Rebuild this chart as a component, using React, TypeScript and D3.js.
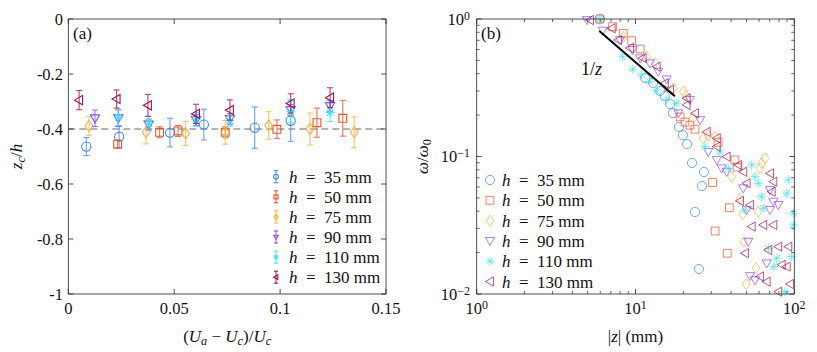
import { useEffect, useRef } from 'react';
import * as d3 from 'd3';

const heights = [35, 50, 75, 90, 110, 130];
const colors = ['#3c8cf6', '#e8532b', '#f5b441', '#8a4cf2', '#3ee4f2', '#a3134f'];
const markers = ['circle', 'square', 'diamond', 'triangleDown', 'star', 'triangleLeft'];

// panel (a): [ (Ua-Uc)/Uc, zc/h, error ]
const zc35 = [[0.0085, -0.464, 0.033], [0.024, -0.428, 0.04], [0.048, -0.413, 0.052], [0.064, -0.384, 0.056], [0.088, -0.395, 0.075], [0.105, -0.37, 0.075]];
const zc50 = [[0.0233, -0.455, 0.015], [0.0431, -0.412, 0.02], [0.0518, -0.407, 0.02], [0.0741, -0.412, 0.02], [0.0985, -0.401, 0.034], [0.1174, -0.377, 0.053], [0.1296, -0.361, 0.065]];
const zc75 = [[0.0098, -0.389, 0.035], [0.0367, -0.412, 0.042], [0.0554, -0.416, 0.044], [0.0741, -0.412, 0.043], [0.0946, -0.387, 0.05], [0.1141, -0.4, 0.058], [0.135, -0.412, 0.056]];
const zc90 = [[0.0126, -0.361, 0.03], [0.0236, -0.361, 0.03], [0.038, -0.384, 0.02], [0.0603, -0.367, 0.02], [0.0763, -0.364, 0.02], [0.105, -0.331, 0.02], [0.1236, -0.316, 0.02]];
const zc110 = [[0.0236, -0.357, 0.03], [0.038, -0.379, 0.025], [0.0603, -0.365, 0.025], [0.0763, -0.37, 0.02], [0.105, -0.337, 0.04], [0.1236, -0.34, 0.033]];
const zc130 = [[0.0051, -0.295, 0.035], [0.0228, -0.291, 0.033], [0.0376, -0.314, 0.04], [0.0603, -0.345, 0.035], [0.0763, -0.331, 0.037], [0.105, -0.307, 0.035], [0.1236, -0.286, 0.036]];

// panel (b): [ |z| (mm), omega/omega0 ]
const decay35 = [[5.95, 1.0], [11.5, 0.372], [12.9, 0.343], [14.3, 0.3], [15.3, 0.275], [16.5, 0.241], [17.2, 0.207], [18.8, 0.164], [19.9, 0.143], [21.1, 0.123], [22.7, 0.0897], [27.0, 0.0771], [26.2, 0.061], [23.7, 0.0395], [25.1, 0.0152]];
const decay50 = [[5.97, 1.0], [7.18, 0.879], [8.38, 0.787], [9.46, 0.695], [10.7, 0.605], [19.1, 0.194], [20.5, 0.178], [22.0, 0.169], [23.7, 0.158], [33.1, 0.127], [42.3, 0.0943], [43.6, 0.0839], [30.6, 0.0647], [39.0, 0.0424], [31.7, 0.0287], [37.8, 0.0198]];
const decay75 = [[5.92, 1.0], [8.38, 0.744], [11.8, 0.532], [13.3, 0.476], [17.3, 0.313], [20.0, 0.296], [20.8, 0.28], [23.1, 0.19], [26.7, 0.136], [28.7, 0.143], [31.7, 0.139], [40.3, 0.0713], [45.5, 0.0497], [47.3, 0.038], [48.2, 0.024], [49.7, 0.0118], [57.4, 0.0154], [59.3, 0.0397], [60.8, 0.082], [62.3, 0.0893], [65.4, 0.097]];
const decay90 = [[4.95, 0.983], [6.21, 0.822], [7.99, 0.703], [9.6, 0.595], [10.7, 0.518], [12.3, 0.476], [13.9, 0.414], [15.7, 0.364], [18.6, 0.206], [22.0, 0.258], [25.5, 0.184], [28.7, 0.108], [32.5, 0.0943], [34.9, 0.082], [37.5, 0.0775], [47.7, 0.0587], [50.1, 0.0408], [51.3, 0.024], [52.6, 0.0135], [56.6, 0.0126], [67.0, 0.0167], [70.3, 0.057], [73.8, 0.0469], [79.3, 0.0444], [70.3, 0.0408]];
const decay110 = [[5.95, 1.0], [8.3, 0.532], [9.6, 0.431], [10.9, 0.392], [12.3, 0.35], [13.5, 0.301], [15.7, 0.258], [18.2, 0.244], [27.4, 0.118], [34.0, 0.108], [38.4, 0.082], [48.9, 0.0408], [53.9, 0.0867], [56.6, 0.0713], [59.3, 0.0638], [62.3, 0.051], [63.8, 0.042], [68.6, 0.0215], [73.8, 0.0158], [77.5, 0.0182], [87.4, 0.0104], [89.6, 0.054], [91.7, 0.0675], [96.3, 0.0187], [98.6, 0.0386], [98.6, 0.0318]];
const decay130 = [[5.17, 0.983], [7.08, 0.856], [7.79, 0.703], [9.23, 0.615], [11.1, 0.52], [13.6, 0.45], [15.3, 0.341], [16.5, 0.305], [21.0, 0.265], [21.0, 0.237], [23.7, 0.206], [28.1, 0.151], [32.5, 0.136], [32.5, 0.118], [37.5, 0.0997], [44.4, 0.0867], [47.7, 0.0775], [50.1, 0.0638], [45.5, 0.0475], [52.6, 0.0444], [53.9, 0.0309], [63.8, 0.0318], [73.8, 0.0318], [48.9, 0.0198], [70.3, 0.0755], [73.8, 0.0656], [72.1, 0.0555], [91.7, 0.0221], [79.3, 0.0221], [68.6, 0.0209], [83.3, 0.0163], [89.6, 0.0158], [60.8, 0.0134], [67.0, 0.0123], [94.0, 0.0118], [79.3, 0.0104]];

// 1/z reference line end points
const slopeLine = [[5.92, 0.818], [17.7, 0.274]];

const xTicksA = [0, 0.05, 0.1, 0.15];
const xTickLabelsA = ['0', '0.05', '0.1', '0.15'];
const yTicksA = [0, -0.2, -0.4, -0.6, -0.8, -1];
const yTickLabelsA = ['0', '-0.2', '-0.4', '-0.6', '-0.8', '-1'];
const decadesB = [1, 10, 100];
const xExpB = ['0', '1', '2'];
const yDecadesB = [1, 0.1, 0.01];
const yExpB = ['0', '\u22121', '\u22122'];

const FONT = "'Liberation Serif', 'DejaVu Serif', 'Times New Roman', serif";
const TICK = 16.5;
const TXT = 17;

function markerPath(kind: string, r: number): string {
  switch (kind) {
    case 'circle':
      return d3.symbol(d3.symbolCircle, Math.PI * r * r)() as string;
    case 'square': {
      const s = r * 0.85;
      return `M${-s},${-s}H${s}V${s}H${-s}Z`;
    }
    case 'diamond':
      return `M0,${-r * 1.2}L${r * 0.85},0L0,${r * 1.2}L${-r * 0.85},0Z`;
    case 'triangleDown':
      return `M${-r},${-r * 0.75}L${r},${-r * 0.75}L0,${r}Z`;
    case 'triangleLeft':
      return `M${-r},0L${r * 0.75},${-r}L${r * 0.75},${r}Z`;
    default: {
      const d = r * 0.72;
      return `M${-r},0H${r}M0,${-r}V${r}M${-d},${-d}L${d},${d}M${-d},${d}L${d},${-d}`;
    }
  }
}

function mathText(sel: any, parts: [string, string][], baseSize: number) {
  // style: 'i' italic, 'r' roman, 'sub-i' / 'sub-r' subscript, 'sup' superscript
  parts.forEach(([t, s]) => {
    const ts = sel.append('tspan').text(t);
    if (s === 'i') ts.style('font-style', 'italic');
    if (s === 'sub-i' || s === 'sub-r') {
      ts.style('font-size', `${baseSize * 0.72}px`).attr('baseline-shift', '-25%');
      if (s === 'sub-i') ts.style('font-style', 'italic');
    }
    if (s === 'sup') ts.style('font-size', `${baseSize * 0.72}px`).attr('baseline-shift', '45%');
  });
}

function label(g: any, x: number, y: number, size: number, anchor = 'start') {
  return g.append('text').attr('x', x).attr('y', y).attr('text-anchor', anchor)
    .style('font-family', FONT).style('font-size', `${size}px`).attr('fill', '#111');
}

function App() {
  const ref = useRef<SVGSVGElement>(null);

  useEffect(() => {
    const svg = d3.select(ref.current);
    svg.selectAll('*').remove();

    const top = 19, bottom = 294;
    const xA = d3.scaleLinear().domain([0, 0.15]).range([68.3, 386]);
    const yA = d3.scaleLinear().domain([-1, 0]).range([bottom, top]);
    const xB = d3.scaleLog().domain([1, 100]).range([476.7, 794.3]);
    const yB = d3.scaleLog().domain([0.01, 1]).range([bottom, top]);
    const axisColor = '#262626';

    // ---------- panel (a)
    const gA = svg.append('g');
    gA.append('line')
      .attr('x1', xA(0)).attr('x2', xA(0.15))
      .attr('y1', yA(-0.4)).attr('y2', yA(-0.4))
      .attr('stroke', '#9a9a9a').attr('stroke-width', 1.3).attr('stroke-dasharray', '7,4');

    const seriesA = [zc35, zc50, zc75, zc90, zc110, zc130];
    seriesA.forEach((data, i) => {
      const g = gA.append('g');
      data.forEach(([x, y, e]) => {
        const px = xA(x);
        const eb = g.append('g').attr('stroke', colors[i]).attr('stroke-width', 1.1).attr('opacity', 0.8);
        eb.append('line').attr('x1', px).attr('x2', px).attr('y1', yA(y - e)).attr('y2', yA(y + e));
        eb.append('line').attr('x1', px - 3).attr('x2', px + 3).attr('y1', yA(y - e)).attr('y2', yA(y - e));
        eb.append('line').attr('x1', px - 3).attr('x2', px + 3).attr('y1', yA(y + e)).attr('y2', yA(y + e));
        g.append('path')
          .attr('d', markerPath(markers[i], 4.6))
          .attr('transform', `translate(${px},${yA(y)})`)
          .attr('fill', 'none').attr('stroke', colors[i]).attr('stroke-width', 1.1);
      });
    });

    // frame + ticks (a)
    gA.append('rect').attr('x', xA(0)).attr('y', top).attr('width', xA(0.15) - xA(0)).attr('height', bottom - top)
      .attr('fill', 'none').attr('stroke', axisColor).attr('stroke-width', 0.8);
    xTicksA.forEach((t, i) => {
      const px = xA(t);
      gA.append('line').attr('x1', px).attr('x2', px).attr('y1', bottom).attr('y2', bottom - 5).attr('stroke', axisColor).attr('stroke-width', 0.8);
      gA.append('line').attr('x1', px).attr('x2', px).attr('y1', top).attr('y2', top + 5).attr('stroke', axisColor).attr('stroke-width', 0.8);
      label(gA, px, 314, TICK, 'middle').text(xTickLabelsA[i]);
    });
    yTicksA.forEach((t, i) => {
      const py = yA(t);
      gA.append('line').attr('x1', xA(0)).attr('x2', xA(0) + 5).attr('y1', py).attr('y2', py).attr('stroke', axisColor).attr('stroke-width', 0.8);
      gA.append('line').attr('x1', xA(0.15)).attr('x2', xA(0.15) - 5).attr('y1', py).attr('y2', py).attr('stroke', axisColor).attr('stroke-width', 0.8);
      label(gA, 63, py + 5.5, TICK, 'end').text(yTickLabelsA[i]);
    });
    label(gA, 73, 39, TXT).text('(a)');

    const xTitleA = label(gA, xA(0.075), 342, TXT, 'middle');
    mathText(xTitleA, [['(', 'r'], ['U', 'i'], ['a', 'sub-i'], [' \u2212 ', 'r'], ['U', 'i'], ['c', 'sub-i'], [')/', 'r'], ['U', 'i'], ['c', 'sub-i']], TXT);
    const yTitleA = label(gA, 0, 0, TXT, 'middle').attr('transform', `translate(22,${(top + bottom) / 2}) rotate(-90)`);
    mathText(yTitleA, [['z', 'i'], ['c', 'sub-i'], ['/', 'r'], ['h', 'i']], TXT);

    // legend (a)
    heights.forEach((h, i) => {
      const ly = 176.7 + i * 20.1;
      const lx = 276;
      const g = gA.append('g').attr('stroke', colors[i]).attr('stroke-width', 1.1);
      g.append('line').attr('x1', lx).attr('x2', lx).attr('y1', ly - 6).attr('y2', ly + 6).attr('opacity', 0.85);
      g.append('line').attr('x1', lx - 2).attr('x2', lx + 2).attr('y1', ly - 6).attr('y2', ly - 6);
      g.append('line').attr('x1', lx - 2).attr('x2', lx + 2).attr('y1', ly + 6).attr('y2', ly + 6);
      g.append('path').attr('d', markerPath(markers[i], 2.4)).attr('transform', `translate(${lx},${ly})`).attr('fill', 'none');
      const t = label(gA, 289, ly + 6, TXT);
      mathText(t, [['h', 'i'], [`\u2002=\u2002${h} mm`, 'r']], TXT);
    });

    // ---------- panel (b)
    const gB = svg.append('g');
    const seriesB = [decay35, decay50, decay75, decay90, decay110, decay130];
    seriesB.forEach((data, i) => {
      gB.append('g').selectAll('path')
        .data(data.filter(d => d[1] >= 0.0098))
        .join('path')
        .attr('d', markerPath(markers[i], 4.6))
        .attr('transform', d => `translate(${xB(d[0])},${yB(d[1])})`)
        .attr('fill', 'none').attr('stroke', colors[i]).attr('stroke-width', 1).attr('opacity', 0.72);
    });

    gB.append('line')
      .attr('x1', xB(slopeLine[0][0])).attr('y1', yB(slopeLine[0][1]))
      .attr('x2', xB(slopeLine[1][0])).attr('y2', yB(slopeLine[1][1]))
      .attr('stroke', '#000').attr('stroke-width', 2);
    const slopeLabel = label(gB, 581, 75, 18);
    mathText(slopeLabel, [['1/', 'r'], ['z', 'i']], 18);

    gB.append('rect').attr('x', xB(1)).attr('y', top).attr('width', xB(100) - xB(1)).attr('height', bottom - top)
      .attr('fill', 'none').attr('stroke', axisColor).attr('stroke-width', 0.8);

    // log ticks
    [1, 10].forEach(dec => {
      d3.range(2, 10).forEach(m => {
        const px = xB(dec * m);
        gB.append('line').attr('x1', px).attr('x2', px).attr('y1', bottom).attr('y2', bottom - 3).attr('stroke', axisColor).attr('stroke-width', 0.7);
        gB.append('line').attr('x1', px).attr('x2', px).attr('y1', top).attr('y2', top + 3).attr('stroke', axisColor).attr('stroke-width', 0.7);
      });
    });
    [0.01, 0.1].forEach(dec => {
      d3.range(2, 10).forEach(m => {
        const py = yB(dec * m);
        gB.append('line').attr('x1', xB(1)).attr('x2', xB(1) + 3).attr('y1', py).attr('y2', py).attr('stroke', axisColor).attr('stroke-width', 0.7);
        gB.append('line').attr('x1', xB(100)).attr('x2', xB(100) - 3).attr('y1', py).attr('y2', py).attr('stroke', axisColor).attr('stroke-width', 0.7);
      });
    });
    decadesB.forEach((v, i) => {
      const px = xB(v);
      gB.append('line').attr('x1', px).attr('x2', px).attr('y1', bottom).attr('y2', bottom - 5).attr('stroke', axisColor).attr('stroke-width', 0.8);
      gB.append('line').attr('x1', px).attr('x2', px).attr('y1', top).attr('y2', top + 5).attr('stroke', axisColor).attr('stroke-width', 0.8);
      mathText(label(gB, px, 314, TICK, 'middle'), [['10', 'r'], [xExpB[i], 'sup']], TICK);
    });
    yDecadesB.forEach((v, i) => {
      const py = yB(v);
      gB.append('line').attr('x1', xB(1)).attr('x2', xB(1) + 5).attr('y1', py).attr('y2', py).attr('stroke', axisColor).attr('stroke-width', 0.8);
      gB.append('line').attr('x1', xB(100)).attr('x2', xB(100) - 5).attr('y1', py).attr('y2', py).attr('stroke', axisColor).attr('stroke-width', 0.8);
      mathText(label(gB, 470, py + 5.5, TICK, 'end'), [['10', 'r'], [yExpB[i], 'sup']], TICK);
    });
    label(gB, 481, 39, TXT).text('(b)');

    mathText(label(gB, xB(10), 342, TXT, 'middle'), [['|', 'r'], ['z', 'i'], ['| (mm)', 'r']], TXT);
    const yTitleB = label(gB, 0, 0, TXT, 'middle').attr('transform', `translate(428,${(top + bottom) / 2}) rotate(-90)`);
    mathText(yTitleB, [['\u03c9', 'i'], ['/', 'r'], ['\u03c9', 'i'], ['0', 'sub-r']], TXT);

    // legend (b)
    heights.forEach((h, i) => {
      const ly = 180 + i * 20.3;
      gB.append('path').attr('d', markerPath(markers[i], 4.6)).attr('transform', `translate(490,${ly})`)
        .attr('fill', 'none').attr('stroke', colors[i]).attr('stroke-width', 1).attr('opacity', 0.72);
      mathText(label(gB, 502, ly + 6, TXT), [['h', 'i'], [`\u2002=\u2002${h} mm`, 'r']], TXT);
    });
  }, []);

  return (
    <svg ref={ref} width={817} height={352}
      style={{ position: 'absolute', left: 0, top: 0, background: '#fff', display: 'block' }} />
  );
}

export default App;
